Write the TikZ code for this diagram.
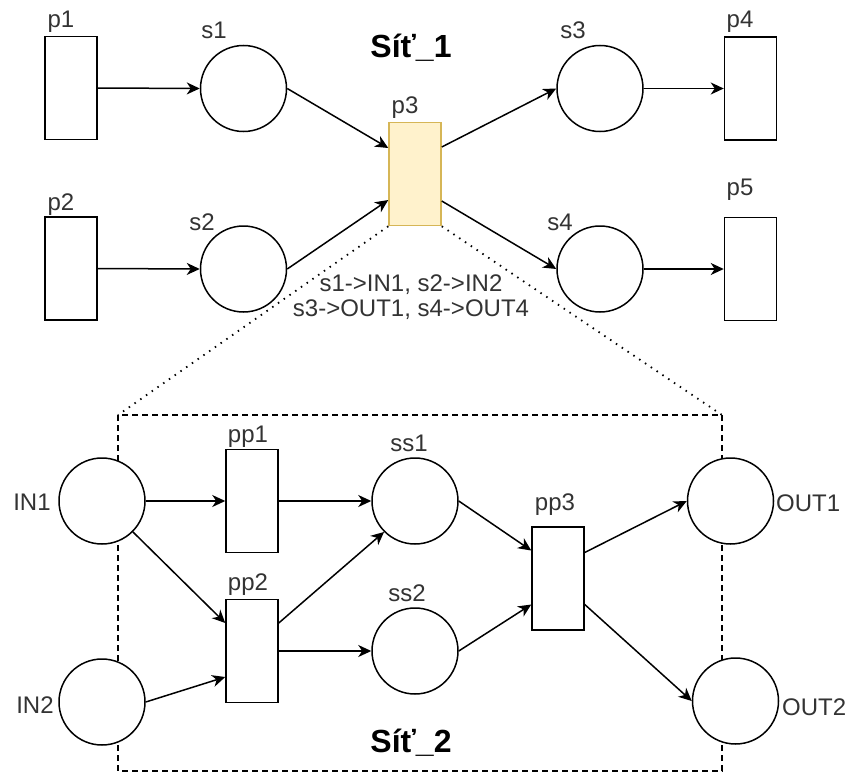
\documentclass[tikz,border=0pt]{standalone}
\usepackage{fontspec}
\setmainfont{Liberation Sans}
\usetikzlibrary{arrows.meta,backgrounds}
\definecolor{yfill}{HTML}{FFF2CC}
\definecolor{ydraw}{HTML}{D6B656}
\definecolor{lbl}{HTML}{333333}
\begin{document}
\begin{tikzpicture}[x=1pt,y=-1pt,
  pl/.style={circle,draw,line width=1.5pt,fill=white,minimum size=86pt,inner sep=0pt},
  tr/.style={rectangle,draw,line width=1.5pt,fill=white,minimum width=52pt,minimum height=103pt,inner sep=0pt},
  arr/.style={line width=1.5pt,-{Stealth[length=13pt,width=12pt,inset=4pt]}},
  lab/.style={font=\fontsize{24}{25}\selectfont,text=lbl,inner sep=0pt},
  ttl/.style={font=\fontsize{32}{36}\selectfont\bfseries,inner sep=0pt},
  boxline/.style={line width=1.5pt,dash pattern=on 6pt off 4pt},
  dotline/.style={line width=1.8pt,dash pattern=on 1.5pt off 5.5pt}]
\useasboundingbox (0,0) rectangle (853,773);

% Net 1
\node[tr] (p1) at (71,88) {};
\node[tr] (p2) at (71,268.5) {};
\node[tr,fill=yfill,draw=ydraw] (p3) at (415,174) {};
\node[tr] (p4) at (750.5,88.5) {};
\node[tr] (p5) at (750.5,269) {};
\node[pl] (s1) at (243.5,88.5) {};
\node[pl] (s2) at (243.5,269) {};
\node[pl] (s3) at (600,88.5) {};
\node[pl] (s4) at (600,269) {};

\node[lab] (lp1) at (61,22) {p1};
\node[lab] (lp2) at (61,205) {p2};
\node[lab] (lp3) at (405,108) {p3};
\node[lab] (lp4) at (740,22) {p4};
\node[lab] (lp5) at (740,190) {p5};
\node[lab] (ls1) at (214,30) {s1};
\node[lab] (ls2) at (202,222) {s2};
\node[lab] (ls3) at (573,30) {s3};
\node[lab] (ls4) at (560,222) {s4};
\node[ttl] (t1) at (411,48) {Síť\_1};
\node[lab,align=center] (map) at (411,297.5) {s1->IN1, s2->IN2\\s3->OUT1, s4->OUT4};

\draw[arr] (p1.east) -- (s1.west);
\draw[arr] (p2.east) -- (s2.west);
\draw[arr] (s1.east) -- ([yshift=26pt]p3.west);
\draw[arr] (s2.east) -- ([yshift=-26pt]p3.west);
\draw[arr] ([yshift=27pt]p3.east) -- (s3.west);
\draw[arr] ([yshift=-27pt]p3.east) -- (s4.west);
\draw[arr] (s3.east) -- (p4.west);
\draw[arr] (s4.east) -- (p5.west);

% Net 2
\node[pl] (IN1) at (102,501) {};
\node[pl] (IN2) at (102,702) {};
\node[tr] (pp1) at (252,501) {};
\node[tr] (pp2) at (252,651) {};
\node[pl] (ss1) at (415,501) {};
\node[pl] (ss2) at (415,651) {};
\node[tr] (pp3) at (558,578.5) {};
\node[pl] (OUT1) at (730.5,501) {};
\node[pl] (OUT2) at (735.5,701) {};

\node[lab] (lIN1) at (32,502) {IN1};
\node[lab] (lIN2) at (35,705) {IN2};
\node[lab,anchor=west] (lOUT1) at (776,503) {OUT1};
\node[lab,anchor=west] (lOUT2) at (782,707) {OUT2};
\node[lab] (lpp1) at (248,437) {pp1};
\node[lab] (lpp2) at (248,585) {pp2};
\node[lab] (lpp3) at (555,505) {pp3};
\node[lab] (lss1) at (409,443) {ss1};
\node[lab] (lss2) at (407,593) {ss2};
\node[ttl] (t2) at (411,743) {Síť\_2};

\draw[arr] (IN1.east) -- (pp1.west);
\draw[arr] (IN1.south east) -- ([yshift=28pt]pp2.west);
\draw[arr] (IN2.east) -- ([yshift=-26pt]pp2.west);
\draw[arr] (pp1.east) -- (ss1.west);
\draw[arr] ([yshift=28pt]pp2.east) -- (ss1.south west);
\draw[arr] (pp2.east) -- (ss2.west);
\draw[arr] (ss1.east) -- ([yshift=28pt]pp3.west);
\draw[arr] (ss2.east) -- ([yshift=-26pt]pp3.west);
\draw[arr] ([yshift=26pt]pp3.east) -- (OUT1.west);
\draw[arr] ([yshift=-26pt]pp3.east) -- (OUT2.west);

\coordinate (boxtl) at (118,415);
\coordinate (boxtr) at (722,415);
\coordinate (boxbr) at (722,771);
\begin{scope}[on background layer]
  \draw[boxline] (boxtl) rectangle (boxbr);
  \draw[dotline] (p3.south west) -- (boxtl);
  \draw[dotline] (p3.south east) -- (boxtr);
\end{scope}
\end{tikzpicture}
\end{document}
